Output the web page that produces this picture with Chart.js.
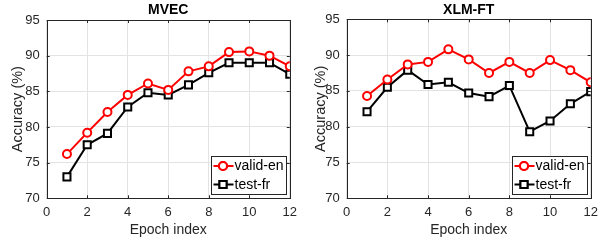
<!DOCTYPE html>
<html>
<head>
<meta charset="utf-8">
<script src="https://cdn.jsdelivr.net/npm/chart.js@4/dist/chart.umd.min.js"></script>
<style>
  body { margin: 0; background: #fff; }
  .row { display: flex; width: 606px; height: 241px; }
  .panel { position: relative; width: 303px; height: 241px; }
</style>
</head>
<body>
<div class="row">
  <div class="panel"><canvas id="mvec"></canvas></div>
  <div class="panel"><canvas id="xlm"></canvas></div>
</div>
<script>
// values
const epochs = [1, 2, 3, 4, 5, 6, 7, 8, 9, 10, 11, 12];
const seriesNames = ["valid-en", "test-fr"];
const mvecValid = [76.2, 79.2, 82.1, 84.5, 86.1, 85.2, 87.8, 88.5, 90.5, 90.6, 90.0, 88.5];
const mvecTest = [73.0, 77.5, 79.1, 82.8, 84.8, 84.5, 85.9, 87.6, 89.0, 89.0, 89.0, 87.4];
const xlmValid = [84.3, 86.6, 88.7, 89.05, 90.8, 89.4, 87.5, 89.05, 87.5, 89.3, 87.9, 86.2];
const xlmTest = [82.1, 85.5, 87.9, 85.9, 86.2, 84.7, 84.2, 85.75, 79.3, 80.8, 83.2, 84.9];
const xTicks = [0, 2, 4, 6, 8, 10, 12];
const yTicks = [70, 75, 80, 85, 90, 95];

const FONT = "'Liberation Sans', Arial, Helvetica, sans-serif";
const AXIS = "#262626";
const GRID = "#e3e3e3";

// box, inward ticks and legend inside the axes (matlab style)
const framePlugin = {
  id: "frame",
  afterDatasetsDraw(chart) {
    const { ctx, chartArea: a, scales } = chart;
    ctx.save();
    ctx.strokeStyle = AXIS;
    ctx.lineWidth = 1;
    ctx.beginPath();
    xTicks.forEach((t) => {
      const px = Math.round(scales.x.getPixelForValue(t)) + 0.5;
      ctx.moveTo(px, a.bottom);
      ctx.lineTo(px, a.bottom - 3);
      ctx.moveTo(px, a.top);
      ctx.lineTo(px, a.top + 3);
    });
    yTicks.forEach((t) => {
      const py = Math.round(scales.y.getPixelForValue(t)) + 0.5;
      ctx.moveTo(a.left, py);
      ctx.lineTo(a.left + 3, py);
      ctx.moveTo(a.right, py);
      ctx.lineTo(a.right - 3, py);
    });
    ctx.stroke();
    ctx.strokeRect(Math.round(a.left) + 0.5, Math.round(a.top) + 0.5,
      Math.round(a.right - a.left), Math.round(a.bottom - a.top));
    ctx.restore();
  },
  afterDraw(chart) {
    const { ctx, chartArea: a } = chart;
    const w = 75, h = 38;
    const left = Math.round(a.right - 4 - w) + 0.5;
    const top = Math.round(a.bottom - 4 - h) + 0.5;
    ctx.save();
    ctx.fillStyle = "#fff";
    ctx.fillRect(left, top, w, h);
    ctx.strokeStyle = AXIS;
    ctx.lineWidth = 1;
    ctx.strokeRect(left, top, w, h);
    chart.data.datasets.forEach((ds, i) => {
      const cy = top + 9.5 + i * 18.5;
      ctx.strokeStyle = ds.borderColor;
      ctx.lineWidth = 2;
      ctx.beginPath();
      ctx.moveTo(left + 2, cy);
      ctx.lineTo(left + 22, cy);
      ctx.stroke();
      Chart.helpers.drawPoint(ctx, {
        pointStyle: ds.pointStyle,
        radius: ds.pointRadius,
        borderWidth: 2,
        rotation: 0
      }, left + 11.5, cy);
      ctx.fillStyle = "#fff";
      ctx.fill();
      ctx.stroke();
      ctx.fillStyle = "#000";
      ctx.font = "14px " + FONT;
      ctx.textBaseline = "middle";
      ctx.fillText(ds.label, left + 23, cy + 0.5);
    });
    ctx.restore();
  }
};

function makeChart(id, title, valid, test, yWidth, padRight, titlePad) {
  return new Chart(document.getElementById(id), {
    type: "line",
    data: {
      datasets: [
        {
          label: seriesNames[0],
          data: epochs.map((e, i) => ({ x: e, y: valid[i] })),
          borderColor: "#ff0000",
          backgroundColor: "#ffffff",
          pointBackgroundColor: "#ffffff",
          borderWidth: 2,
          pointStyle: "circle",
          pointRadius: 4,
          pointBorderWidth: 2
        },
        {
          label: seriesNames[1],
          data: epochs.map((e, i) => ({ x: e, y: test[i] })),
          borderColor: "#000000",
          backgroundColor: "#ffffff",
          pointBackgroundColor: "#ffffff",
          borderWidth: 2,
          pointStyle: "rect",
          pointRadius: 5,
          pointBorderWidth: 2
        }
      ]
    },
    options: {
      responsive: false,
      animation: false,
      layout: { padding: { left: 0, right: padRight, top: 0, bottom: 0 } },
      plugins: {
        legend: { display: false },
        tooltip: { enabled: false },
        title: {
          display: true,
          text: title,
          fullSize: false,
          color: "#000",
          font: { family: FONT, size: 14, weight: "bold" },
          padding: titlePad
        }
      },
      scales: {
        x: {
          type: "linear",
          min: 0,
          max: 12,
          afterBuildTicks: (s) => { s.ticks = xTicks.map((v) => ({ value: v })); },
          afterFit: (s) => { s.height = 42.7; },
          grid: { color: GRID, drawTicks: false },
          border: { display: false },
          ticks: { color: AXIS, padding: 6, font: { family: FONT, size: 13 } },
          title: {
            display: true,
            text: "Epoch index",
            color: AXIS,
            font: { family: FONT, size: 14 },
            padding: { top: 0, bottom: 2 }
          }
        },
        y: {
          min: 70,
          max: 95,
          afterBuildTicks: (s) => { s.ticks = yTicks.map((v) => ({ value: v })); },
          afterFit: (s) => { s.width = yWidth; },
          grid: { color: GRID, drawTicks: false },
          border: { display: false },
          ticks: { color: AXIS, padding: 7, font: { family: FONT, size: 13 } },
          title: {
            display: true,
            text: "Accuracy (%)",
            color: AXIS,
            font: { family: FONT, size: 14.5 },
            padding: { top: 9, bottom: 0 }
          }
        }
      }
    },
    plugins: [framePlugin]
  });
}

const w = 303, h = 241;
["mvec", "xlm"].forEach((id) => {
  const c = document.getElementById(id);
  c.width = w; c.height = h;
  c.style.width = w + "px"; c.style.height = h + "px";
});

makeChart("mvec", "MVEC", mvecValid, mvecTest, 46.7, 12.3, { top: 2, bottom: 1.2 });
makeChart("xlm", "XLM-FT", xlmValid, xlmTest, 43.7, 15.3, { top: 2, bottom: 0.5 });
</script>
</body>
</html>
